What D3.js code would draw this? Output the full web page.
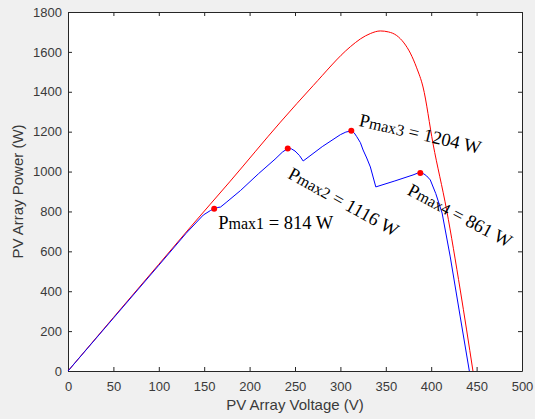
<!DOCTYPE html>
<html>
<head>
<meta charset="utf-8">
<script src="https://cdn.jsdelivr.net/npm/d3@7"></script>
<style>
  body { margin: 0; background: #f0f0f0; }
  svg { display: block; }
</style>
</head>
<body>
<div id="chart"></div>
<script>
// uniform irradiance P-V curve (red)
const redV = [0, 50, 100, 134, 178, 234, 270, 311, 322, 333, 344, 353, 362, 370, 377, 384, 391, 402, 417, 432, 446];
const redP = [0, 268, 535, 717, 948, 1248, 1431, 1626, 1665, 1692, 1705, 1700, 1682, 1645, 1594, 1520, 1424, 1140, 807, 406, 0];

// partial shading P-V curve (blue)
const blueV = [0, 50, 100, 130, 149, 157, 161, 165, 168, 175, 190, 210, 228, 236, 242, 246, 250, 255, 259, 280, 300, 306, 312, 315, 318, 322, 325, 329, 333, 339, 360, 380, 385, 388, 392, 395, 399, 405, 412, 421, 432, 442];
const blueP = [0, 265, 530, 690, 782, 805, 814, 820, 822, 848, 905, 990, 1062, 1097, 1116, 1114, 1103, 1080, 1053, 1125, 1185, 1198, 1204, 1195, 1175, 1145, 1108, 1068, 1023, 923, 953, 983, 992, 993, 988, 978, 958, 890, 792, 572, 271, 0];

// marked peaks
const peakV = [161, 242, 312, 388];
const peakP = [814, 1116, 1204, 993];
const peakName = ["max1", "max2", "max3", "max4"];
const peakText = [" = 814 W", " = 1116 W", " = 1204 W", " = 861 W"];

const xTicks = d3.range(0, 501, 50);
const yTicks = d3.range(0, 1801, 200);

function main() {
    const W = 535, H = 419;
    const left = 68, right = 522, top = 12, bottom = 371;

    const svg = d3.select("#chart")
        .append("svg")
        .attr("width", W)
        .attr("height", H);

    svg.append("rect")
        .attr("width", W).attr("height", H)
        .attr("fill", "#f0f0f0");

    const x = d3.scaleLinear().domain([0, 500]).range([left, right]);
    const y = d3.scaleLinear().domain([0, 1800]).range([bottom, top]);

    svg.append("rect")
        .attr("x", left).attr("y", top)
        .attr("width", right - left).attr("height", bottom - top)
        .attr("fill", "#fff");

    const axisColor = "#262626";

    // bottom / left axes with labels, top / right just ticks
    const gx = svg.append("g")
        .attr("transform", `translate(0,${bottom})`)
        .call(d3.axisBottom(x).tickValues(xTicks).tickSizeInner(-4).tickSizeOuter(0).tickPadding(11).tickFormat(d3.format("d")));
    const gy = svg.append("g")
        .attr("transform", `translate(${left},0)`)
        .call(d3.axisLeft(y).tickValues(yTicks).tickSizeInner(-4).tickSizeOuter(0).tickPadding(6).tickFormat(d3.format("d")));
    const gt = svg.append("g")
        .attr("transform", `translate(0,${top})`)
        .call(d3.axisTop(x).tickValues(xTicks).tickSizeInner(-4).tickSizeOuter(0).tickFormat(""));
    const gr = svg.append("g")
        .attr("transform", `translate(${right},0)`)
        .call(d3.axisRight(y).tickValues(yTicks).tickSizeInner(-4).tickSizeOuter(0).tickFormat(""));

    [gx, gy, gt, gr].forEach(function (g) {
        g.selectAll("path, line").attr("stroke", axisColor).attr("stroke-width", 1);
        g.selectAll("text")
            .attr("fill", "#3a3a3a")
            .attr("font-family", "Liberation Sans, Arial, sans-serif")
            .attr("font-size", "13px");
    });

    const redLine = d3.line()
        .x(function (d) { return x(d[0]); })
        .y(function (d) { return y(d[1]); })
        .curve(d3.curveMonotoneX);

    const blueLine = d3.line()
        .x(function (d) { return x(d[0]); })
        .y(function (d) { return y(d[1]); });

    const redData = redV.map(function (v, i) { return [v, redP[i]]; });
    const blueData = blueV.map(function (v, i) { return [v, blueP[i]]; });

    svg.append("path")
        .datum(redData)
        .attr("d", redLine)
        .attr("fill", "none")
        .attr("stroke", "#ff0000")
        .attr("stroke-width", 1);

    svg.append("path")
        .datum(blueData)
        .attr("d", blueLine)
        .attr("fill", "none")
        .attr("stroke", "#0000ff")
        .attr("stroke-width", 1);

    const peaks = peakV.map(function (v, i) {
        return {v: v, p: peakP[i], name: peakName[i], text: peakText[i]};
    });

    svg.append("g")
        .selectAll("circle")
        .data(peaks)
        .enter()
        .append("circle")
        .attr("cx", function (d) { return x(d.v); })
        .attr("cy", function (d) { return y(d.p); })
        .attr("r", 3)
        .attr("fill", "#ff0000");

    // label offsets (px) from each peak and rotation
    const labelPos = [
        {dx: 4, dy: 20, rot: 0},
        {dx: -1, dy: 29, rot: 29},
        {dx: 7, dy: -5, rot: 13},
        {dx: -14, dy: 21, rot: 28}
    ];

    const labels = svg.append("g")
        .selectAll("text")
        .data(peaks)
        .enter()
        .append("text")
        .attr("transform", function (d, i) {
            const lp = labelPos[i];
            return `translate(${x(d.v) + lp.dx},${y(d.p) + lp.dy}) rotate(${lp.rot})`;
        })
        .attr("font-family", "Liberation Serif, Times New Roman, serif")
        .attr("font-size", "18.5px")
        .attr("fill", "#000");

    labels.append("tspan").text("P");
    labels.append("tspan").attr("font-size", "16px").text(function (d) { return d.name; });
    labels.append("tspan").text(function (d) { return d.text; });

    // axis titles
    svg.append("text")
        .attr("x", (left + right) / 2)
        .attr("y", 410)
        .attr("text-anchor", "middle")
        .attr("font-family", "Liberation Sans, Arial, sans-serif")
        .attr("font-size", "15px")
        .attr("fill", "#3a3a3a")
        .text("PV Array Voltage (V)");

    svg.append("text")
        .attr("transform", `translate(23,${(top + bottom) / 2}) rotate(-90)`)
        .attr("text-anchor", "middle")
        .attr("font-family", "Liberation Sans, Arial, sans-serif")
        .attr("font-size", "15px")
        .attr("fill", "#3a3a3a")
        .text("PV Array Power (W)");
}

main()
</script>
</body>
</html>
